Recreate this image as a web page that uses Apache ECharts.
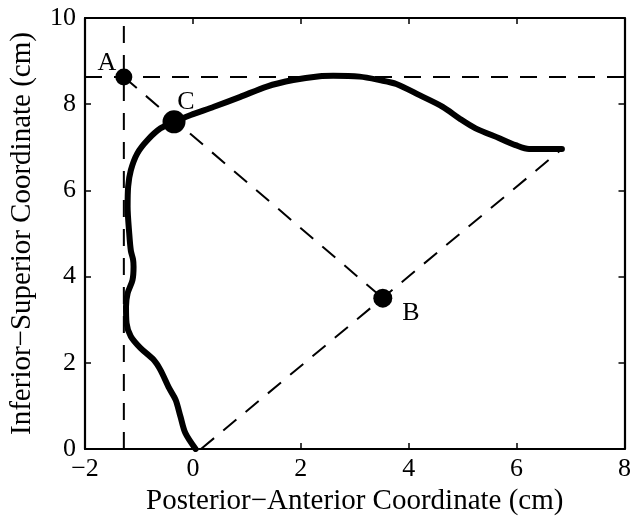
<!DOCTYPE html>
<html>
<head>
<meta charset="utf-8">
<script src="https://cdn.jsdelivr.net/npm/echarts@6/dist/echarts.min.js"></script>
<style>html,body{margin:0;padding:0;background:#fff}#c{width:634px;height:525px}</style>
</head>
<body>
<div id="c"></div>
<script>
// Outline curve (Posterior–Anterior x, Inferior–Superior y), in cm
const curveX = [0.05,-0.14,-0.23,-0.32,-0.44,-0.60,-0.72,-0.97,-1.15,-1.23,-1.24,-1.21,-1.12,-1.10,-1.11,-1.15,-1.18,-1.21,-1.20,-1.15,-1.03,-0.84,-0.60,-0.35,-0.04,0.39,0.88,1.37,1.86,2.35,2.60,3.09,3.46,3.77,4.20,4.63,4.94,5.24,5.68,5.98,6.23,6.84];
const curveY = [0.00,0.37,0.75,1.14,1.41,1.83,2.06,2.34,2.61,2.92,3.30,3.61,3.92,4.23,4.40,4.60,5.00,5.62,6.09,6.47,6.86,7.17,7.44,7.59,7.75,7.94,8.17,8.41,8.56,8.65,8.66,8.64,8.56,8.47,8.21,7.94,7.67,7.44,7.21,7.05,6.96,6.96];
// Labelled points
const pointNames = ['A', 'B', 'C'];
const pointX = [-1.28, 3.52, -0.35];
const pointY = [8.63, 3.50, 7.59];
// Guide line ends
const guideStart = [0.15, 0];
const tipPoint = [6.84, 6.96];
// Axis ranges / ticks
const xTicks = [-2, 0, 2, 4, 6, 8];
const yTicks = [0, 2, 4, 6, 8, 10];

const FONT = 'Liberation Serif';
const curve = curveX.map((x, i) => [x, curveY[i]]);
const A = [pointX[0], pointY[0]], B = [pointX[1], pointY[1]], C = [pointX[2], pointY[2]];
const xMin = xTicks[0], xMax = xTicks[xTicks.length - 1];
const yMin = yTicks[0], yMax = yTicks[yTicks.length - 1];
const fmt = v => String(v).replace('-', '\u2212');

const dash = (data) => ({
  type: 'line', data, symbol: 'none', silent: true, animation: false,
  lineStyle: { color: '#000', width: 2, type: [17, 12] }, z: 2
});

const axisCommon = {
  type: 'value', axisLine: { show: true, onZero: false, lineStyle: { color: '#000', width: 2.2 } },
  axisTick: { show: true, inside: true, length: 6, lineStyle: { color: '#000', width: 1.5 } },
  splitLine: { show: false }
};

const chart = echarts.init(document.getElementById('c'), null, { renderer: 'canvas' });
chart.setOption({
  backgroundColor: '#fff',
  animation: false,
  grid: { left: 84, right: 8, top: 18, bottom: 76, containLabel: false },
  xAxis: [
    Object.assign({}, axisCommon, {
      min: xMin, max: xMax, interval: 2, position: 'bottom',
      name: 'Posterior\u2212Anterior Coordinate (cm)', nameLocation: 'middle', nameGap: 36,
      nameTextStyle: { color: '#000', fontFamily: FONT, fontSize: 29 },
      axisLabel: { color: '#000', fontFamily: FONT, fontSize: 26, margin: 7, formatter: fmt }
    }),
    Object.assign({}, axisCommon, {
      min: xMin, max: xMax, interval: 2, position: 'top', axisLabel: { show: false }
    })
  ],
  yAxis: [
    Object.assign({}, axisCommon, {
      min: yMin, max: yMax, interval: 2, position: 'left',
      name: 'Inferior\u2212Superior Coordinate (cm)', nameLocation: 'middle', nameGap: 48,
      nameTextStyle: { color: '#000', fontFamily: FONT, fontSize: 29 },
      axisLabel: { color: '#000', fontFamily: FONT, fontSize: 26, margin: 9, formatter: fmt }
    }),
    Object.assign({}, axisCommon, {
      min: yMin, max: yMax, interval: 2, position: 'right', axisLabel: { show: false }
    })
  ],
  series: [
    dash([[A[0], yMin], [A[0], yMax]]),
    dash([[xMin, A[1]], [xMax, A[1]]]),
    dash([A, B]),
    dash([guideStart, tipPoint]),
    {
      type: 'line', data: curve, symbol: 'none', smooth: 0.3, silent: true,
      lineStyle: { color: '#000', width: 6, cap: 'round', join: 'round' }, z: 3
    },
    {
      type: 'scatter', z: 4, silent: true,
      data: [
        { value: A, name: pointNames[0], symbolSize: 17, label: { offset: [-17, -14] } },
        { value: B, name: pointNames[1], symbolSize: 19, label: { offset: [28, 15] } },
        { value: C, name: pointNames[2], symbolSize: 23, label: { offset: [12, -20] } }
      ],
      itemStyle: { color: '#000', opacity: 1 },
      label: { show: true, position: 'inside', formatter: p => p.name, color: '#000', opacity: 1, fontFamily: FONT, fontSize: 26 }
    }
  ]
});
</script>
</body>
</html>
